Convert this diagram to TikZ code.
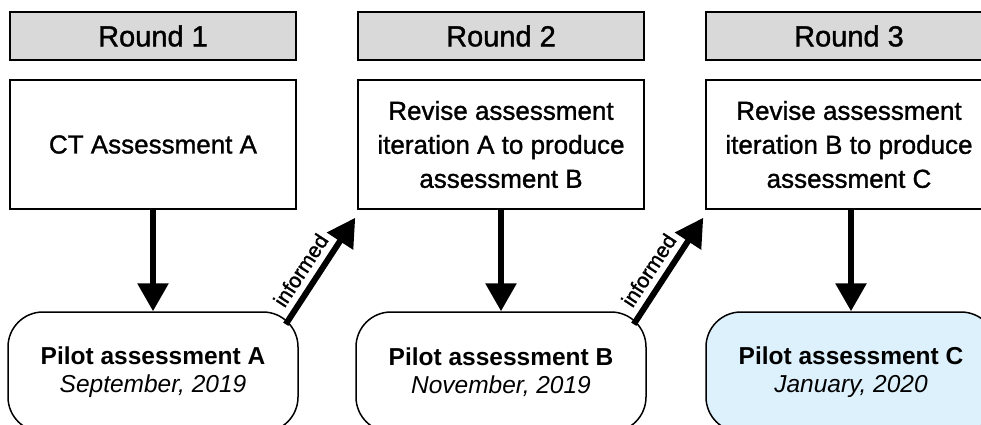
\documentclass[tikz,border=0pt]{standalone}
\usepackage{fontspec}
\setmainfont{Liberation Sans}
\newfontfamily\medfont[BoldFont=Liberation Sans,BoldFeatures={FakeBold=1.2}]{Liberation Sans}
\usetikzlibrary{arrows.meta}
\usetikzlibrary{positioning}
\definecolor{headgray}{HTML}{D9D9D9}
\definecolor{pilotblue}{HTML}{DDF1FC}

\begin{document}
\begin{tikzpicture}[x=1pt,y=1pt,
roundbox/.style={draw,line width=1.5pt,fill=headgray,minimum width=286pt,minimum height=48pt,font=\fontsize{29}{32}\medfont\bfseries},
taskbox/.style={draw,line width=1.5pt,minimum width=286pt,minimum height=129pt,align=center,font=\fontsize{26}{34}\medfont\bfseries},
pilotbox/.style={draw,line width=1.5pt,rounded corners=35pt,minimum width=290pt,minimum height=120pt,align=center,font=\fontsize{24.5}{28}\selectfont},
flow/.style={line width=6pt,-{Triangle[width=30pt,length=28pt]}},
note/.style={font=\fontsize{21}{24}\medfont\bfseries,above=3pt,sloped,pos=0.42}]
\useasboundingbox (0,0) rectangle (981,-425);
% round 1
\node[roundbox] (r1) at (153,-36) {Round 1};
\node[taskbox] (t1) at (153,-144.5) {CT Assessment A};
\node[pilotbox] (p1) at (153,-372) {\textbf{Pilot assessment A}\\\textit{September, 2019}};
% round 2
\node[roundbox] (r2) at (501,-36) {Round 2};
\node[taskbox] (t2) at (501,-144.5) {Revise assessment\\iteration A to produce\\assessment B};
\node[pilotbox] (p2) at (501,-372) {\textbf{Pilot assessment B}\\\textit{November, 2019}};
% round 3
\node[roundbox] (r3) at (849,-36) {Round 3};
\node[taskbox] (t3) at (849,-144.5) {Revise assessment\\iteration B to produce\\assessment C};
\node[pilotbox,fill=pilotblue] (p3) at (851,-372) {\textbf{Pilot assessment C}\\\textit{January, 2020}};
% arrows
\draw[flow] (t1) -- (p1);
\draw[flow] (t2) -- (p2);
\draw[flow] (t3.south -| p3) -- (p3);
\draw[flow] ([xshift=-13pt,yshift=-13pt]p1.north east) -- ([xshift=-2pt,yshift=-8pt]t2.south west) node[note] {informed};
\draw[flow] ([xshift=-13pt,yshift=-13pt]p2.north east) -- ([xshift=-2pt,yshift=-8pt]t3.south west) node[note] {informed};
\end{tikzpicture}
\end{document}
